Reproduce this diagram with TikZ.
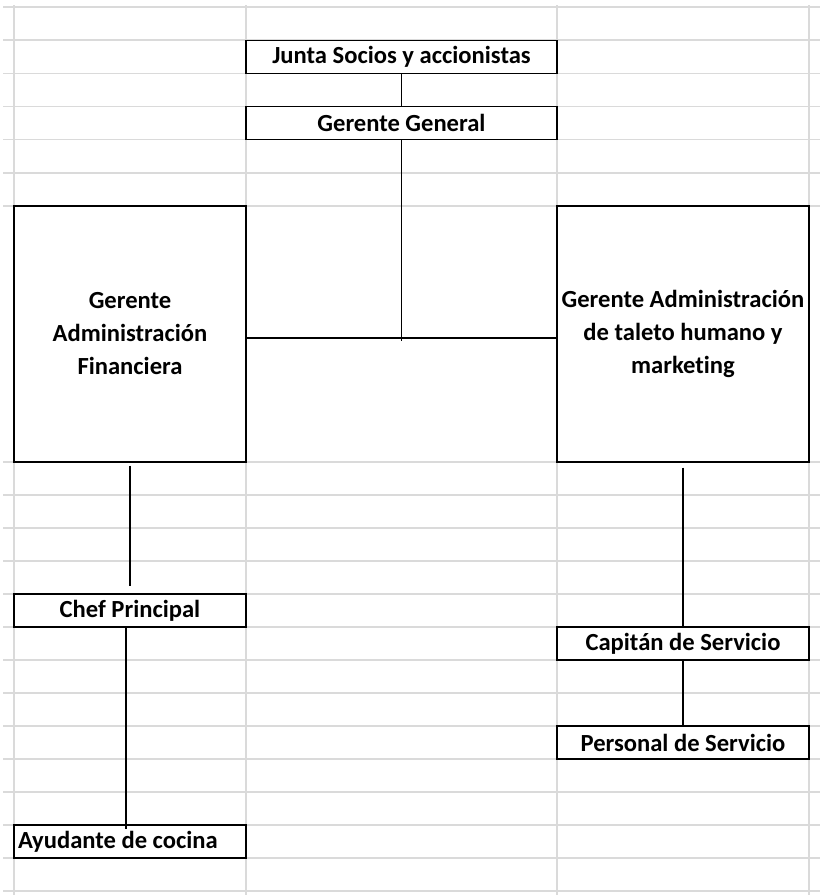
\documentclass[tikz,border=0pt]{standalone}
\usepackage{fontspec}
\setmainfont{Carlito}[Ligatures=NoCommon]
\usetikzlibrary{positioning}
\definecolor{gridgray}{RGB}{218,218,218}
\begin{document}
\begin{tikzpicture}[x=1pt, y=-1pt,
        cell/.style={rectangle, draw=black, line width=1.4pt, fill=white, inner sep=0pt, align=center, font=\bfseries\fontsize{24.6}{33}\selectfont},
        slim/.style={cell, minimum height=33pt},
        tall/.style={cell, minimum height=256pt},
        link/.style={line width=1.4pt, black}
    ]
        \useasboundingbox (0,0) rectangle (820,895);
        % hoja de calculo
        \foreach \r in {7,40.2,73.3,106.5,139.7,172.8,206}
            \draw[gridgray, line width=1.5pt] (3,\r) -- (820,\r);
        \foreach \r in {462,495,...,891}
            \draw[gridgray, line width=1.5pt] (3,\r) -- (820,\r);
        \foreach \c in {14,246,557,809}
            \draw[gridgray, line width=1.5pt] (\c,5) -- (\c,895);

        \node[slim, minimum width=311pt] (junta) at (401.5,56.8) {Junta Socios y accionistas};
        \node[slim, minimum width=311pt] (general) at (401.5,123.1) {Gerente General};
        \node[tall, minimum width=232pt] (financiera) at (130,334) {Gerente\\Administración\\Financiera};
        \node[tall, minimum width=252pt] (talento) at (683,334) {Gerente Administración\\de taleto humano y\\marketing};
        \node[slim, minimum width=232pt] (chef) at (130,610.5) {Chef Principal};
        \node[slim, minimum width=232pt, text width=224pt, align=flush left] (ayudante) at (130,841.5) {Ayudante de cocina};
        \node[slim, minimum width=252pt] (capitan) at (683,643.5) {Capitán de Servicio};
        \node[slim, minimum width=252pt] (personal) at (683,742.5) {Personal de Servicio};

        \coordinate (cruce) at (402,341);

        \draw[link] (junta) -- (general);
        \draw[link] (general.south) -- (general.south |- cruce);
        \draw[link] (financiera.east |- 0,338) -- (talento.west |- 0,338);
        \draw[link] ([yshift=-3pt]financiera.south) -- ([yshift=7pt]chef.north);
        \draw[link] ([xshift=-4pt]chef.south) -- ([xshift=-4pt, yshift=-5pt]ayudante.north);
        \draw[link] ([yshift=-5pt]talento.south) -- (capitan.north);
        \draw[link] (capitan) -- (personal);
    \end{tikzpicture}
\end{document}
